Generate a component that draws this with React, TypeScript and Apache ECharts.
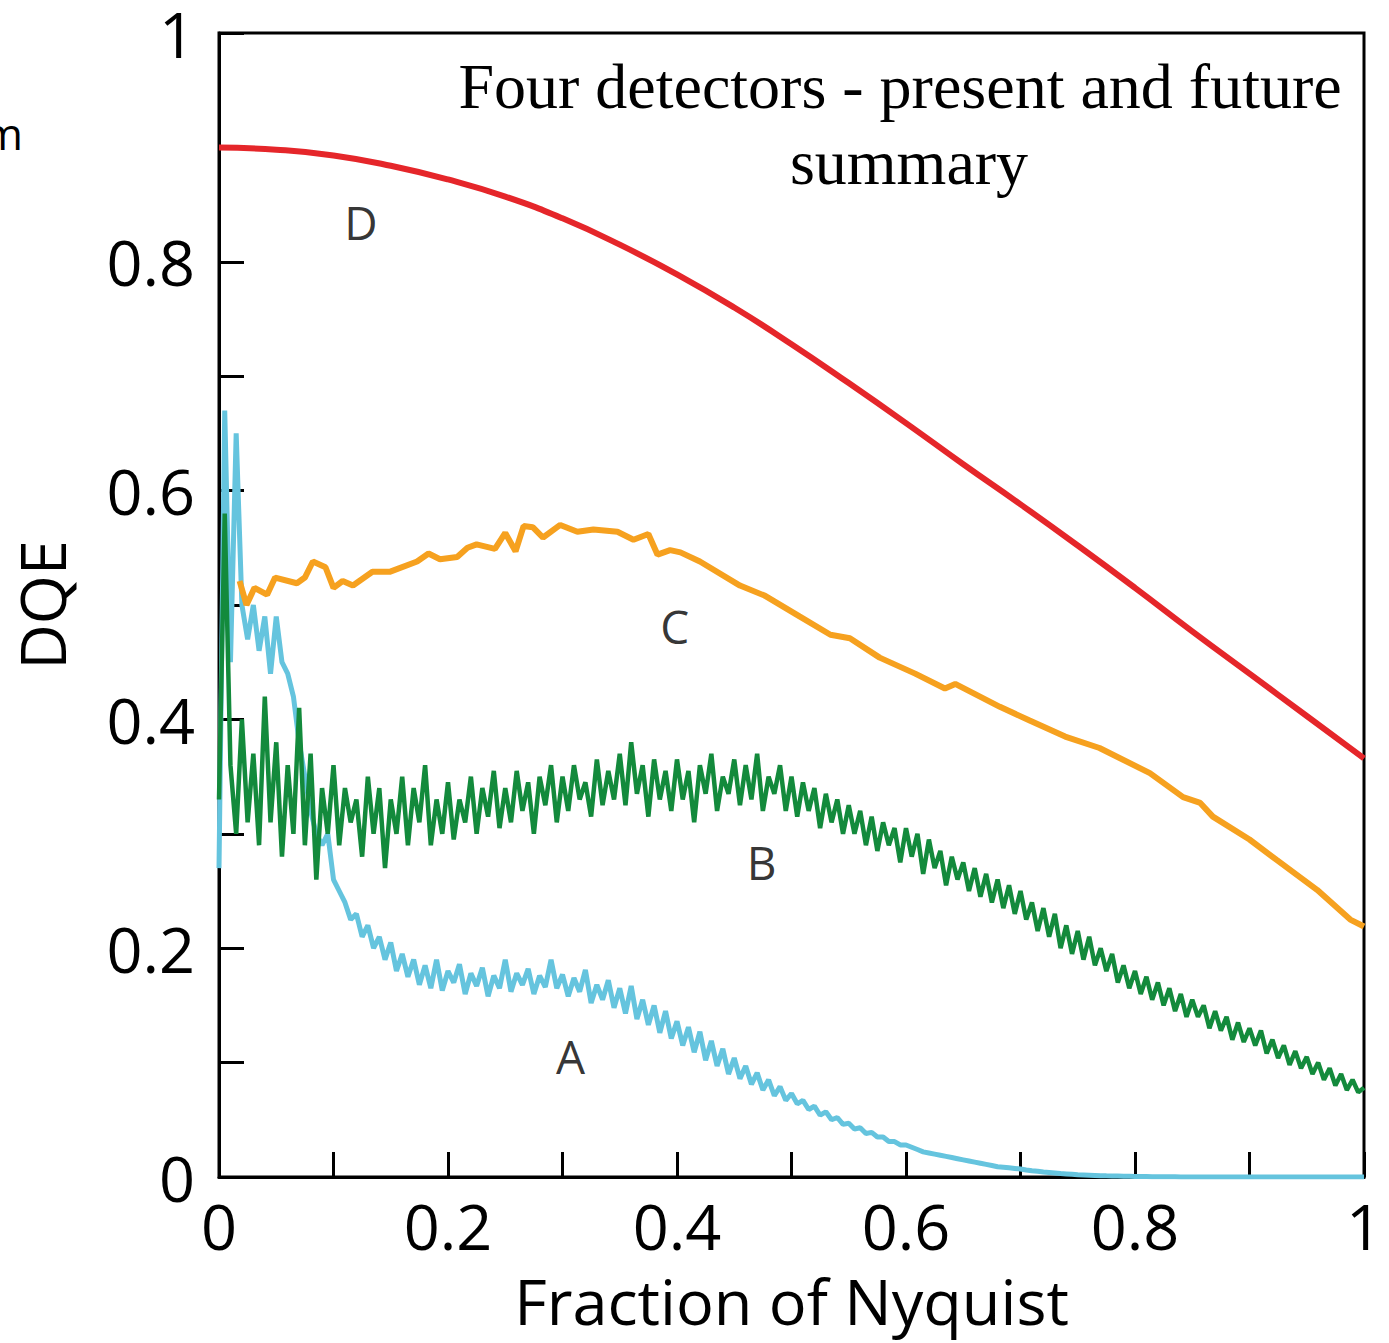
import React, { useEffect, useRef } from "react";
import * as echarts from "echarts";

// Sampling step of the noisy curves A and B (fraction of Nyquist)
const NOISY_STEP = 0.005;

// Curve A (cyan) DQE, sampled every 0.005 from 0 to 1
const curveA: number[] = [
  0.27, 0.67, 0.45, 0.65, 0.5, 0.47, 0.5, 0.46, 0.49, 0.44,
  0.49, 0.45, 0.44, 0.42, 0.38, 0.35, 0.32, 0.3, 0.29, 0.3,
  0.26, 0.25, 0.24, 0.225, 0.23, 0.21, 0.22, 0.2, 0.21, 0.19,
  0.205, 0.18, 0.195, 0.175, 0.19, 0.168, 0.185, 0.165, 0.19, 0.163,
  0.18, 0.17, 0.186, 0.16, 0.178, 0.167, 0.183, 0.158, 0.176, 0.165,
  0.19, 0.162, 0.178, 0.168, 0.182, 0.16, 0.176, 0.166, 0.19, 0.165,
  0.177, 0.158, 0.174, 0.162, 0.181, 0.152, 0.168, 0.155, 0.172, 0.148,
  0.165, 0.143, 0.167, 0.138, 0.155, 0.133, 0.15, 0.126, 0.145, 0.121,
  0.136, 0.115, 0.131, 0.109, 0.127, 0.102, 0.119, 0.097, 0.112, 0.09,
  0.104, 0.086, 0.097, 0.081, 0.091, 0.076, 0.085, 0.071, 0.079, 0.067,
  0.073, 0.064, 0.067, 0.059, 0.062, 0.054, 0.057, 0.05, 0.052, 0.046,
  0.047, 0.042, 0.043, 0.038, 0.039, 0.035, 0.035, 0.031, 0.031, 0.028,
  0.028, 0.026, 0.024, 0.022, 0.021, 0.02, 0.019, 0.018, 0.017, 0.016,
  0.015, 0.014, 0.013, 0.012, 0.011, 0.01, 0.009, 0.0085, 0.008, 0.0075,
  0.007, 0.0062, 0.0055, 0.005, 0.0044, 0.004, 0.0035, 0.003, 0.0027, 0.0024,
  0.002, 0.0018, 0.0016, 0.0014, 0.0012, 0.001, 0.0009, 0.0008, 0.0007, 0.0006,
  0.0005, 0.0004, 0.0004, 0.0003, 0.0003, 0.0002, 0.0002, 0.0002, 0.0001, 0.0001,
  0.0001, 0.0001, 0, 0, 0, 0, 0, 0, 0, 0,
  0, 0, 0, 0, 0, 0, 0, 0, 0, 0,
  0, 0, 0, 0, 0, 0, 0, 0, 0, 0,
  0,
];

// Curve B (green) DQE, sampled every 0.005 from 0 to 1
const curveB: number[] = [
  0.33, 0.58, 0.36, 0.3, 0.4, 0.31, 0.37, 0.29, 0.42, 0.31,
  0.38, 0.28, 0.36, 0.3, 0.41, 0.29, 0.37, 0.26, 0.34, 0.3,
  0.36, 0.29, 0.34, 0.31, 0.33, 0.28, 0.35, 0.3, 0.34, 0.27,
  0.33, 0.3, 0.35, 0.29, 0.34, 0.31, 0.36, 0.29, 0.33, 0.3,
  0.345, 0.295, 0.33, 0.31, 0.35, 0.3, 0.34, 0.315, 0.355, 0.305,
  0.34, 0.31, 0.355, 0.32, 0.345, 0.3, 0.35, 0.325, 0.36, 0.31,
  0.35, 0.32, 0.36, 0.33, 0.345, 0.315, 0.365, 0.325, 0.355, 0.33,
  0.37, 0.325, 0.38, 0.335, 0.36, 0.315, 0.365, 0.33, 0.355, 0.32,
  0.365, 0.33, 0.355, 0.31, 0.36, 0.335, 0.37, 0.32, 0.35, 0.335,
  0.365, 0.325, 0.36, 0.33, 0.37, 0.32, 0.35, 0.335, 0.36, 0.32,
  0.35, 0.315, 0.345, 0.32, 0.34, 0.305, 0.335, 0.31, 0.33, 0.3,
  0.325, 0.3, 0.32, 0.29, 0.315, 0.285, 0.31, 0.29, 0.305, 0.275,
  0.305, 0.28, 0.3, 0.265, 0.295, 0.27, 0.285, 0.255, 0.28, 0.26,
  0.275, 0.25, 0.27, 0.245, 0.265, 0.24, 0.26, 0.235, 0.255, 0.23,
  0.25, 0.225, 0.24, 0.215, 0.235, 0.21, 0.23, 0.2, 0.22, 0.195,
  0.215, 0.19, 0.21, 0.185, 0.2, 0.18, 0.195, 0.17, 0.185, 0.165,
  0.18, 0.16, 0.175, 0.155, 0.17, 0.15, 0.165, 0.145, 0.16, 0.14,
  0.155, 0.14, 0.15, 0.13, 0.145, 0.128, 0.14, 0.12, 0.135, 0.118,
  0.13, 0.115, 0.128, 0.108, 0.12, 0.104, 0.115, 0.098, 0.11, 0.095,
  0.105, 0.09, 0.1, 0.085, 0.095, 0.08, 0.09, 0.076, 0.085, 0.074,
  0.078,
];

// Curve C (orange): [fraction of Nyquist, DQE]
const curveC: [number, number][] = [
  [0.018, 0.521], [0.024, 0.5], [0.031, 0.515], [0.042, 0.509], [0.049, 0.524],
  [0.068, 0.519], [0.075, 0.524], [0.082, 0.538], [0.093, 0.533], [0.1, 0.515],
  [0.108, 0.521], [0.117, 0.517], [0.134, 0.529], [0.149, 0.529], [0.173, 0.538],
  [0.183, 0.545], [0.193, 0.54], [0.208, 0.542], [0.217, 0.55], [0.225, 0.553],
  [0.241, 0.549], [0.25, 0.563], [0.259, 0.547], [0.266, 0.569], [0.274, 0.568],
  [0.283, 0.559], [0.298, 0.57], [0.313, 0.564], [0.327, 0.566], [0.348, 0.564],
  [0.362, 0.557], [0.375, 0.562], [0.383, 0.544], [0.394, 0.548], [0.403, 0.546],
  [0.42, 0.538], [0.455, 0.517], [0.477, 0.508], [0.507, 0.49], [0.534, 0.474],
  [0.551, 0.471], [0.577, 0.454], [0.608, 0.44], [0.634, 0.427], [0.643, 0.431],
  [0.682, 0.411], [0.708, 0.399], [0.739, 0.385], [0.769, 0.375], [0.813, 0.353],
  [0.842, 0.332], [0.857, 0.327], [0.868, 0.315], [0.9, 0.295], [0.924, 0.277],
  [0.959, 0.251], [0.988, 0.225], [1.0, 0.219],
];

// Curve D (red): [fraction of Nyquist, DQE]
const curveD: [number, number][] = [
  [0, 0.9], [0.05, 0.898], [0.1, 0.893], [0.15, 0.884], [0.2, 0.872],
  [0.25, 0.857], [0.3, 0.838], [0.35, 0.815], [0.4, 0.789], [0.45, 0.76],
  [0.5, 0.728], [0.55, 0.694], [0.6, 0.659], [0.65, 0.623], [0.7, 0.588],
  [0.75, 0.552], [0.8, 0.515], [0.85, 0.477], [0.9, 0.44], [0.95, 0.403],
  [1.0, 0.366],
];

// Curve letters placed in data coordinates
const curveLabels: { name: string; value: [number, number] }[] = [
  { name: "D", value: [0.124, 0.835] },
  { name: "C", value: [0.398, 0.482] },
  { name: "B", value: [0.474, 0.275] },
  { name: "A", value: [0.307, 0.106] },
];

const titleLines = ["Four detectors - present and future", "summary"];
const xAxisName = "Fraction of Nyquist";
const yAxisName = "DQE";

const SANS = "'Open Sans', 'DejaVu Sans', sans-serif";
const SERIF = "'Liberation Serif', 'DejaVu Serif', serif";

const tickFormatter = (v: number) => {
  const r = Math.round(v * 10);
  if (r % 2 !== 0) return "";
  if (r === 0) return "0";
  if (r === 10) return "1";
  return (r / 10).toString();
};

export default function App() {
  const ref = useRef<HTMLDivElement>(null);

  useEffect(() => {
    if (!ref.current) return;
    const chart = echarts.init(ref.current, undefined, { renderer: "svg" });

    const axisCommon = {
      type: "value" as const,
      min: 0,
      max: 1,
      interval: 0.1,
      axisLine: { show: true, onZero: false, lineStyle: { color: "#000", width: 3 } },
      axisTick: { show: true, inside: true, length: 25, lineStyle: { color: "#000", width: 3 } },
      splitLine: { show: false },
      nameLocation: "middle" as const,
      nameTextStyle: { fontFamily: SANS, fontSize: 63, color: "#000" },
    };

    chart.setOption({
      animation: false,
      backgroundColor: "#fff",
      grid: {
        show: true,
        left: 219,
        right: 25,
        top: 33,
        bottom: 166,
        borderColor: "#000",
        borderWidth: 3,
        backgroundColor: "transparent",
      },
      xAxis: {
        ...axisCommon,
        name: xAxisName,
        nameGap: 92,
        axisLabel: {
          formatter: tickFormatter,
          fontFamily: SANS,
          fontSize: 63,
          color: "#000",
          margin: 17,
          showMinLabel: true,
          showMaxLabel: true,
        },
      },
      yAxis: {
        ...axisCommon,
        name: yAxisName,
        nameGap: 146,
        axisLabel: {
          formatter: tickFormatter,
          fontFamily: SANS,
          fontSize: 63,
          color: "#000",
          margin: 24,
          showMinLabel: true,
          showMaxLabel: true,
        },
      },
      graphic: [
        {
          type: "text",
          x: 900,
          y: 86,
          style: {
            text: titleLines[0],
            fontFamily: SERIF,
            fontSize: 64,
            fill: "#000",
            align: "center",
            verticalAlign: "middle",
          },
          z: 10,
        },
        {
          type: "text",
          x: 909,
          y: 162,
          style: {
            text: titleLines[1],
            fontFamily: SERIF,
            fontSize: 64,
            fill: "#000",
            align: "center",
            verticalAlign: "middle",
          },
          z: 10,
        },
        {
          type: "text",
          x: 23,
          y: 133,
          style: {
            text: "m",
            fontFamily: SANS,
            fontSize: 44,
            fill: "#000",
            align: "right",
            verticalAlign: "middle",
          },
        },
      ],
      series: [
        {
          name: "A",
          type: "line",
          data: curveA.map((y, i) => [i * NOISY_STEP, y]),
          showSymbol: false,
          lineStyle: { color: "#65c4de", width: 5 },
          z: 1,
        },
        {
          name: "B",
          type: "line",
          data: curveB.map((y, i) => [i * NOISY_STEP, y]),
          showSymbol: false,
          lineStyle: { color: "#138a3c", width: 4.5 },
          z: 2,
        },
        {
          name: "C",
          type: "line",
          data: curveC,
          showSymbol: false,
          lineStyle: { color: "#f6a11f", width: 6 },
          z: 3,
        },
        {
          name: "D",
          type: "line",
          data: curveD,
          smooth: true,
          showSymbol: false,
          lineStyle: { color: "#e5262a", width: 6 },
          z: 4,
        },
        {
          name: "labels",
          type: "scatter",
          data: curveLabels,
          symbolSize: 0,
          silent: true,
          label: {
            show: true,
            position: "inside",
            formatter: (p: any) => p.name,
            fontFamily: SANS,
            fontSize: 46,
            color: "#000",
          },
          z: 5,
        },
      ],
    });

    return () => chart.dispose();
  }, []);

  return (
    <div
      ref={ref}
      style={{ position: "fixed", left: 0, top: 0, width: 1389, height: 1343 }}
    />
  );
}
